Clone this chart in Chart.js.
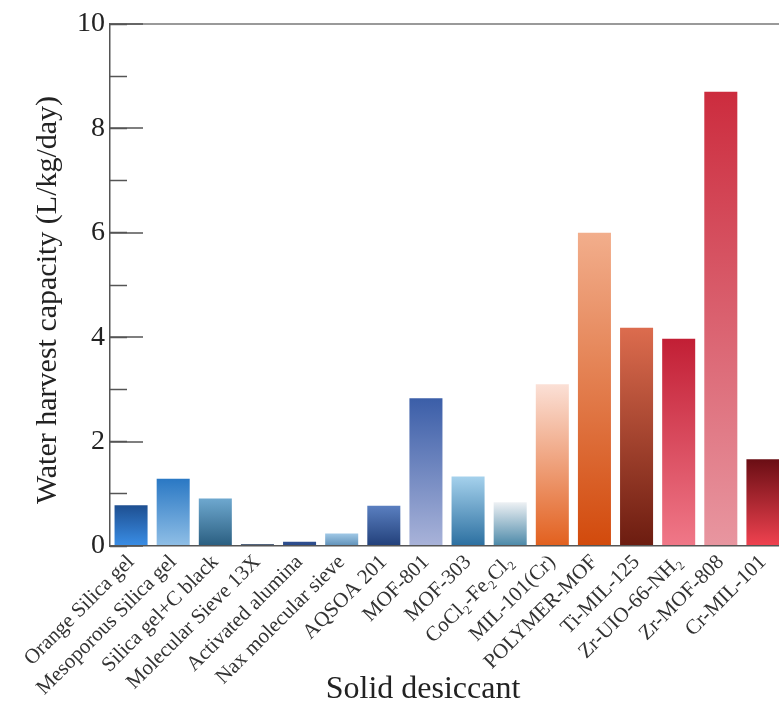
<!DOCTYPE html>
<html>
<head>
<meta charset="utf-8">
<script src="https://cdn.jsdelivr.net/npm/chart.js@4.4.0/dist/chart.umd.min.js"></script>
<style>
  html, body { margin: 0; padding: 0; background: #fff; overflow: hidden; }
  #wrap { width: 790px; height: 709px; }
</style>
</head>
<body>
<div id="wrap"><canvas id="capacityChart" width="790" height="709"></canvas></div>
<script>
// Solid desiccants (x axis categories)
const desiccants = [
    "Orange Silica gel", "Mesoporous Silica gel", "Silica gel+C black", "Molecular Sieve 13X",
    "Activated alumina", "Nax molecular sieve", "AQSOA 201", "MOF-801", "MOF-303",
    "CoCl\u2082-Fe\u2082Cl\u2082", "MIL-101(Cr)", "POLYMER-MOF", "Ti-MIL-125",
    "Zr-UIO-66-NH\u2082", "Zr-MOF-808", "Cr-MIL-101"
];

// Water harvest capacity (L/kg/day)
const capacity = [0.78, 1.29, 0.91, 0.04, 0.08, 0.24, 0.77, 2.83, 1.33, 0.84, 3.10, 6.00, 4.18, 3.97, 8.70, 1.66];

// y axis range and ticks
const yMin = 0;
const yMax = 10;
const yMajorStep = 2;
const yMinorStep = 1;

// Bar gradient colours, top of the bar -> bottom of the bar
const topColors = [
    "#1e4f91", "#2a78c4", "#6ea8cf", "#56677f", "#2f4f90", "#a0c8e6", "#5a7fc0", "#3b5ea8",
    "#a5d1ec", "#eef1f4", "#fbe0d6", "#f2ae8c", "#dc6c4e", "#c21f35", "#cc2c3e", "#6a0e14"
];
const bottomColors = [
    "#3a8ee6", "#90bfe6", "#2a5e80", "#4a5e7a", "#2a4a88", "#5e90b8", "#22407a", "#a9b3d9",
    "#2b6fa0", "#4a88a8", "#e2601e", "#d24a0c", "#6c1c10", "#f07888", "#e896a0", "#f04250"
];

const serif = "'Liberation Serif', 'DejaVu Serif', serif";
Chart.defaults.font.family = serif;

// Vertical gradient for each bar, built from the y scale
function barGradient(ctx) {
    const chart = ctx.chart;
    const i = ctx.dataIndex;
    if (!chart.chartArea || i === undefined) return topColors[0];
    const yScale = chart.scales.y;
    const top = yScale.getPixelForValue(capacity[i]);
    const bottom = yScale.getPixelForValue(yMin);
    const g = chart.ctx.createLinearGradient(0, top, 0, bottom);
    g.addColorStop(0, topColors[i]);
    g.addColorStop(1, bottomColors[i]);
    return g;
}

const chartCtx = document.getElementById("capacityChart").getContext("2d");
const capacityChart = new Chart(chartCtx, {
    type: "bar",
    data: {
        labels: desiccants,
        datasets: [{
            data: capacity,
            backgroundColor: barGradient,
            borderWidth: 0,
            categoryPercentage: 0.8,
            barPercentage: 0.98,
            yAxisID: "y"
        }]
    },
    options: {
        responsive: false,
        animation: false,
        layout: { padding: { top: 24, right: 6, left: 0, bottom: 0 } },
        plugins: {
            legend: { display: false },
            tooltip: { enabled: false }
        },
        scales: {
            x: {
                offset: true,
                grid: { display: false, drawTicks: false, tickLength: 0 },
                border: { display: true, color: "#555", width: 1.5 },
                ticks: {
                    autoSkip: false,
                    minRotation: 45,
                    maxRotation: 45,
                    padding: 4,
                    color: "#333",
                    font: { size: 21 }
                },
                title: {
                    display: true,
                    text: "Solid desiccant      ",
                    color: "#222",
                    font: { size: 32 },
                    padding: { top: 0, bottom: 0 }
                },
                afterFit: (scale) => {
                    scale.height = 163;
                    scale.paddingLeft = 0;
                    scale.paddingRight = 0;
                }
            },
            // main axis: labels, long ticks pointing inwards, top frame line
            y: {
                position: "left",
                weight: 1,
                min: yMin,
                max: yMax,
                ticks: {
                    stepSize: yMajorStep,
                    padding: 38,
                    color: "#222",
                    font: { size: 28 }
                },
                grid: {
                    drawOnChartArea: true,
                    tickLength: -33,
                    tickColor: "#555",
                    tickWidth: 1.5,
                    lineWidth: 2,
                    color: (c) => (c.tick && c.tick.value === yMax ? "#9a9a9a" : "rgba(0,0,0,0)")
                },
                border: { display: true, color: "#555", width: 1.5 },
                title: {
                    display: true,
                    text: "Water harvest capacity (L/kg/day)    ",
                    color: "#222",
                    font: { size: 30 },
                    padding: { top: 30, bottom: 0 }
                },
                afterFit: (scale) => {
                    scale.width = 110;
                    scale.paddingTop = 0;
                    scale.paddingBottom = 0;
                }
            },
            // minor ticks only
            y2: {
                position: "left",
                weight: 0,
                min: yMin,
                max: yMax,
                ticks: { stepSize: yMinorStep, display: false },
                grid: {
                    drawOnChartArea: false,
                    tickLength: -17,
                    tickColor: "#555",
                    tickWidth: 1.5
                },
                border: { display: false },
                afterFit: (scale) => {
                    scale.width = 0;
                    scale.paddingTop = 0;
                    scale.paddingBottom = 0;
                }
            }
        }
    }
});
</script>
</body>
</html>
